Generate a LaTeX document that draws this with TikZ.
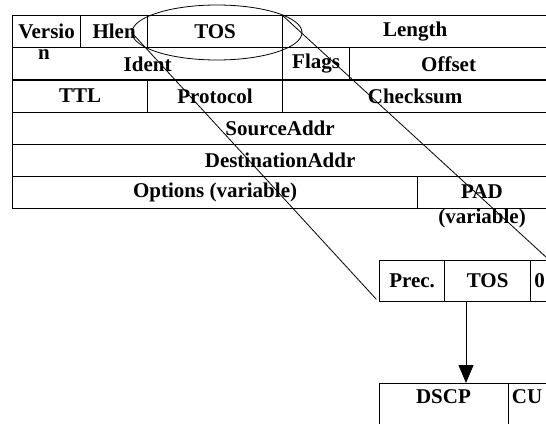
\documentclass[tikz,border=0pt]{standalone}
\usepackage{fontspec}
\setmainfont{Liberation Serif}
\usetikzlibrary{shapes.geometric,arrows.meta,calc}
\begin{document}
\begin{tikzpicture}[x=1pt,y=-1pt,
  fnt/.style={font=\bfseries\fontsize{21}{25}\selectfont},
  cell/.style={draw, line width=1.2pt, inner sep=0pt, anchor=north west, fnt},
  txt/.style={inner sep=0pt, fnt},
  lnk/.style={line width=0.8pt}]
\useasboundingbox[fill=white] (0,0) rectangle (546,423);
\clip (0,0) rectangle (546,423);
% row 1
\node[cell, minimum width=68, minimum height=32.2] (ver) at (12,15) {Versio};
\node[cell, minimum width=67, minimum height=32.2] (hlen) at (80,15) {Hlen};
\node[cell, minimum width=135, minimum height=32.2] (tos) at (147,15) {TOS};
\node[cell, minimum width=265, minimum height=32.2] (len) at (282,15) {Length};
% row 2
\node[cell, minimum width=270, minimum height=32.2] (ident) at (12,47.2) {Ident};
\node[cell, minimum width=67, minimum height=32.2] (flags) at (282,47.2) {Flags};
\node[cell, minimum width=198, minimum height=32.2] (offset) at (349,47.2) {Offset};
\node[txt, anchor=base] (n) at (44,59) {n};
% row 3
\node[cell, minimum width=135, minimum height=32.2] (ttl) at (12,79.4) {TTL};
\node[cell, minimum width=135, minimum height=32.2] (proto) at (147,79.4) {Protocol};
\node[cell, minimum width=265, minimum height=32.2] (cks) at (282,79.4) {Checksum};
% rows 4-6
\node[cell, minimum width=535, minimum height=32.2] (src) at (12,111.6) {SourceAddr};
\node[cell, minimum width=535, minimum height=32.2] (dst) at (12,143.8) {DestinationAddr};
\node[cell, minimum width=405, minimum height=32.2] (opt) at (12,176) {Options (variable)};
\node[cell, minimum width=130, minimum height=32.2] (pad) at (417,176) {};
\node[txt, anchor=north, align=center] (padtxt) at (482,184) {PAD\\(variable)};
% ellipse
\node[draw, ellipse, lnk, minimum width=170, minimum height=55, inner sep=0pt] (ell) at (217,32.5) {};
% lower boxes
\node[cell, minimum width=65, minimum height=41] (prec) at (379,260) {Prec.};
\node[cell, minimum width=86, minimum height=41] (tos2) at (444,260) {TOS};
\node[cell, minimum width=18, minimum height=41] (zero) at (530,260) {0};
\node[cell, minimum width=129, minimum height=60] (dscp) at (379,383) {};
\node[cell, minimum width=40, minimum height=60] (cu) at (508,383) {};
\node[txt] (dscptxt) at (443.5,397) {DSCP};
\node[txt] (cutxt) at (527,397) {CU};
% connectors
\draw[lnk, shorten >=4pt] (ell.west) -- (prec.south west);
\draw[lnk] (len.north west) -- (zero.north east);
\draw[lnk, -{Triangle[width=15pt,length=18pt]}] ($(tos2.south west)+(22,0)$) -- ($(dscp.north west)+(87,0)$);
\end{tikzpicture}
\end{document}
